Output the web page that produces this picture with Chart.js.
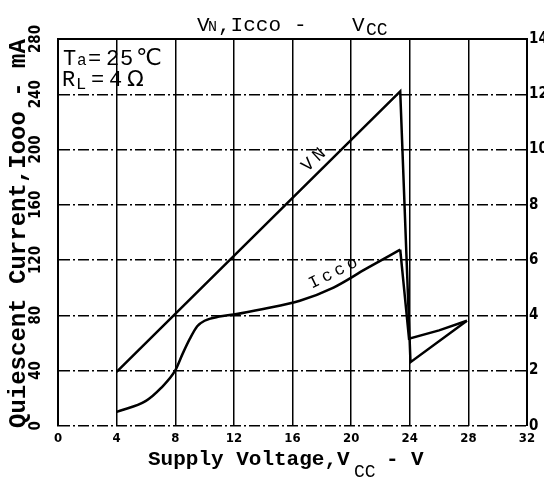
<!DOCTYPE html>
<html><head><meta charset="utf-8">
<style>html,body{margin:0;padding:0;background:#fff}#wrap{width:544px;height:480px}</style>
<script src="https://cdn.jsdelivr.net/npm/chart.js@4.4.0/dist/chart.umd.min.js"></script>
</head><body><div id="wrap"><canvas id="c" width="544" height="480"></canvas></div>
<script>
// ---- data ----
const xTicks = [0, 4, 8, 12, 16, 20, 24, 28, 32];
const leftTicks = [0, 40, 80, 120, 160, 200, 240, 280];
const rightTicks = [0, 2, 4, 6, 8, 10, 12, 14];
// Icco (mA, left axis) – smooth rising part
const iccoRiseX = [4, 6, 7, 8, 8.5, 9, 9.5, 10, 11, 12, 14, 16.5, 18.8, 21, 23.35];
const iccoRiseY = [10, 18, 27, 40, 52, 63, 72, 76, 79, 80.5, 84.5, 90.5, 100, 113.5, 127.5];
// Icco after the drop
const iccoTailX = [23.35, 23.95, 26, 27.9];
const iccoTailY = [127.5, 63, 69, 76];
// VN (V, right axis)
const vnX = [4, 23.35, 24.05, 27.9];
const vnY = [1.95, 12.1, 2.3, 3.8];

const pts = (xs, ys) => xs.map((x, i) => ({x: x, y: ys[i]}));
const MONO = '"Liberation Mono", "DejaVu Sans Mono", monospace';
const NARROW = '"Liberation Sans Narrow", "DejaVu Sans Condensed", "Liberation Sans", sans-serif';

const textPlugin = {
  id: 'texts',
  afterDraw(chart) {
    const ctx = chart.ctx;
    const ys = chart.scales.y, y2 = chart.scales.y2, xs = chart.scales.x;
    ctx.save();
    ctx.fillStyle = '#000';
    ctx.textBaseline = 'alphabetic';
    ctx.textAlign = 'left';
    const seg = (t, x, y, f) => { ctx.font = f; ctx.fillText(t, x, y); };
    // Title
    seg('V', 197, 31, '21px ' + MONO);
    seg('N', 208, 31, '15px ' + MONO);
    seg(',Icco', 218, 31, '21px ' + MONO);
    seg('-', 294, 31, '21px ' + MONO);
    seg('V', 352, 31, '21px ' + MONO);
    seg('CC', 366, 35, '18px ' + MONO);
    // X title
    seg('Supply Voltage,V', 148, 465, 'bold 21px ' + MONO);
    seg('CC', 354, 477, '18px ' + MONO);
    seg('-', 386, 465, 'bold 21px ' + MONO);
    seg('V', 411, 465, 'bold 21px ' + MONO);
    // Y title (rotated)
    ctx.save();
    ctx.translate(25, 428);
    ctx.rotate(-Math.PI / 2);
    seg('Quiescent Current,Iooo - mA', 0, 0, 'bold 24px ' + MONO);
    ctx.restore();
    // Left tick labels (rotated)
    ctx.font = 'bold 15px ' + NARROW;
    ctx.textAlign = 'center';
    ctx.textBaseline = 'middle';
    leftTicks.forEach(v => {
      const py = ys.getPixelForValue(v);
      ctx.save();
      ctx.translate(36, py);
      ctx.rotate(-Math.PI / 2);
      ctx.fillText(String(v), 0, 0);
      ctx.restore();
    });
    ctx.textAlign = 'left';
    ctx.textBaseline = 'alphabetic';
    // Conditions
    const F = '22px ' + MONO;
    seg('T', 63, 65, F);
    seg('a', 77, 65, '16px ' + MONO);
    seg('=', 88, 65, F);
    seg('2', 106, 65, F);
    seg('5', 120, 65, F);
    seg('℃', 136, 65, '23px "DejaVu Sans", sans-serif');
    seg('R', 62, 86, F);
    seg('L', 76, 89, '17px ' + MONO);
    seg('=', 91, 86, F);
    seg('4', 109, 86, F);
    seg('Ω', 127, 86, '22px "DejaVu Sans", sans-serif');
    // Curve labels
    const drawAlong = (txt, px, py, ang, adv, f) => {
      ctx.save();
      ctx.translate(px, py);
      ctx.rotate(ang);
      ctx.font = f;
      ctx.textAlign = 'center';
      ctx.textBaseline = 'middle';
      const n = txt.length;
      for (let i = 0; i < n; i++) ctx.fillText(txt[i], (i - (n - 1) / 2) * adv, 0);
      ctx.restore();
    };
    drawAlong('VN', xs.getPixelForValue(17.45), y2.getPixelForValue(9.62), -0.75, 15, '18px ' + MONO);
    drawAlong('Icco', xs.getPixelForValue(18.78), ys.getPixelForValue(110.5), -0.46, 14, '17px ' + MONO);
    ctx.restore();
  }
};

const lineDs = (data, axis, mode) => ({
  data: data, yAxisID: axis, showLine: true, borderColor: '#000', borderWidth: 2.5,
  pointRadius: 0, fill: false, tension: mode ? 0.4 : 0, cubicInterpolationMode: mode || 'default'
});

new Chart(document.getElementById('c'), {
  type: 'scatter',
  data: {
    datasets: [
      lineDs(pts(iccoRiseX, iccoRiseY), 'y', 'monotone'),
      lineDs(pts(iccoTailX, iccoTailY), 'y', null),
      lineDs(pts(vnX, vnY), 'y2', null)
    ]
  },
  options: {
    responsive: false, animation: false, devicePixelRatio: 1,
    layout: {padding: 0},
    plugins: {legend: {display: false}, tooltip: {enabled: false}},
    scales: {
      x: {
        type: 'linear', position: 'bottom', min: 0, max: 32,
        afterBuildTicks: s => { s.ticks = xTicks.map(v => ({value: v})); },
        ticks: {color: '#000', font: {family: NARROW, size: 13, weight: 'bold'}, padding: 5, maxRotation: 0},
        grid: {color: '#000', lineWidth: 1.5, drawTicks: false},
        border: {display: false},
        afterFit: s => { s.height = 54.3; }
      },
      x2: {
        type: 'linear', position: 'top', min: 0, max: 32,
        ticks: {display: false}, grid: {display: false},
        border: {display: true, color: '#000', width: 2},
        afterFit: s => { s.height = 39; }
      },
      y: {
        type: 'linear', position: 'left', min: 0, max: 280,
        afterBuildTicks: s => { s.ticks = leftTicks.map(v => ({value: v})); },
        ticks: {color: 'rgba(0,0,0,0)', font: {size: 11}},
        grid: {color: '#000', lineWidth: 1.4, drawTicks: false},
        border: {display: true, color: '#000', width: 2, dash: [11, 3, 2, 3]},
        afterFit: s => { s.width = 58; }
      },
      y2: {
        type: 'linear', position: 'right', min: 0, max: 14,
        afterBuildTicks: s => { s.ticks = rightTicks.map(v => ({value: v})); },
        ticks: {color: '#000', font: {family: NARROW, size: 15, weight: 'bold'}, padding: 2},
        grid: {drawOnChartArea: false, drawTicks: false},
        border: {display: true, color: '#000', width: 2},
        afterFit: s => { s.width = 17; }
      }
    }
  },
  plugins: [textPlugin]
});
</script>
</body></html>
